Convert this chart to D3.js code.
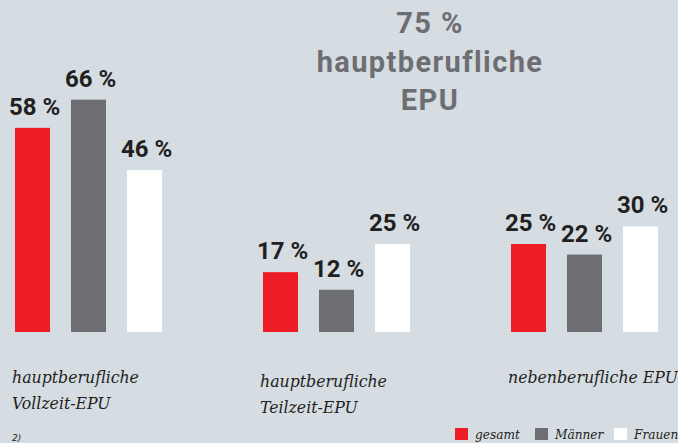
<!DOCTYPE html>
<html>
<head>
<meta charset="utf-8">
<script src="https://cdn.jsdelivr.net/npm/d3@7"></script>
<style>
  html, body { margin: 0; padding: 0; background: #d5dce2; }
  svg { display: block; }
  .val { font-family: Roboto, "Noto Sans", sans-serif; font-weight: 700; font-size: 24px; fill: #231f20; }
  .title { font-family: Roboto, "Noto Sans", sans-serif; font-weight: 700; font-size: 29px; letter-spacing: 1.4px; fill: #6d6e72; }
  .cat { font-family: "DejaVu Serif Condensed", "DejaVu Serif", serif; font-style: italic; font-size: 17.5px; fill: #231f20; }
  .leg { font-family: "DejaVu Serif Condensed", "DejaVu Serif", serif; font-style: italic; font-size: 13.5px; fill: #231f20; }
  .note { font-family: "DejaVu Sans", sans-serif; font-style: italic; font-size: 9px; fill: #231f20; }
</style>
</head>
<body>
<svg id="chart" width="678" height="443"></svg>
<script>
const width = 678, height = 443;

// data
const groups = ["vollzeit", "teilzeit", "neben"];
const groupLabels = [
    ["hauptberufliche", "Vollzeit-EPU"],
    ["hauptberufliche", "Teilzeit-EPU"],
    ["nebenberufliche EPU"]
];
const series = ["gesamt", "Männer", "Frauen"];
const seriesColors = ["#ee1c25", "#6d6e71", "#ffffff"];
const values = [
    [58, 66, 46],
    [17, 12, 25],
    [25, 22, 30]
];
const titleLines = ["75 %", "hauptberufliche", "EPU"];

const baseline = 332;

const svg = d3.select("#chart");

svg.append("rect")
    .attr("width", width).attr("height", height)
    .attr("fill", "#d5dce2");

const x0 = d3.scaleBand()
    .domain(groups)
    .range([15, 15 + 3 * 248]);

const x1 = d3.scaleBand()
    .domain(series)
    .range([0, 147])
    .paddingInner(0.375)
    .paddingOuter(0);

const y = d3.scaleLinear()
    .domain([0, 100])
    .range([baseline, baseline - 352]);

const g = svg.selectAll(".group")
    .data(groups)
    .join("g")
    .attr("class", "group")
    .attr("transform", d => "translate(" + x0(d) + ",0)");

g.selectAll("rect")
    .data((d, i) => values[i].map((v, j) => ({ s: series[j], v: v, c: seriesColors[j] })))
    .join("rect")
    .attr("x", d => x1(d.s))
    .attr("y", d => y(d.v))
    .attr("width", x1.bandwidth())
    .attr("height", d => y(0) - y(d.v))
    .attr("fill", d => d.c);

g.selectAll(".val")
    .data((d, i) => values[i].map((v, j) => ({ s: series[j], v: v })))
    .join("text")
    .attr("class", "val")
    .attr("text-anchor", "middle")
    .attr("x", d => x1(d.s) + x1.bandwidth() / 2 + 2)
    .attr("y", d => y(d.v) - 13)
    .text(d => d.v + " %");

// category labels
const catBase = [383, 387, 383];
g.each(function (d, i) {
    const t = d3.select(this).append("text")
        .attr("class", "cat")
        .attr("x", -3)
        .attr("y", catBase[i]);
    groupLabels[i].forEach((line, k) => {
        t.append("tspan")
            .attr("x", -3)
            .attr("dy", k === 0 ? 0 : 26)
            .text(line);
    });
});

// big title
svg.append("text")
    .attr("class", "title")
    .attr("text-anchor", "middle")
    .selectAll("tspan")
    .data(titleLines)
    .join("tspan")
    .attr("x", 430)
    .attr("y", (d, i) => 33 + i * 38.5)
    .text(d => d);

// legend
const legendX = [455, 535, 614];
const leg = svg.selectAll(".legend")
    .data(series)
    .join("g")
    .attr("class", "legend")
    .attr("transform", (d, i) => "translate(" + legendX[i] + ",428)");

leg.append("rect")
    .attr("width", 13).attr("height", 12)
    .attr("fill", (d, i) => seriesColors[i]);

leg.append("text")
    .attr("class", "leg")
    .attr("x", 20)
    .attr("y", 11)
    .text(d => d);

svg.append("text")
    .attr("class", "note")
    .attr("x", 12)
    .attr("y", 441)
    .text("2)");
</script>
</body>
</html>
